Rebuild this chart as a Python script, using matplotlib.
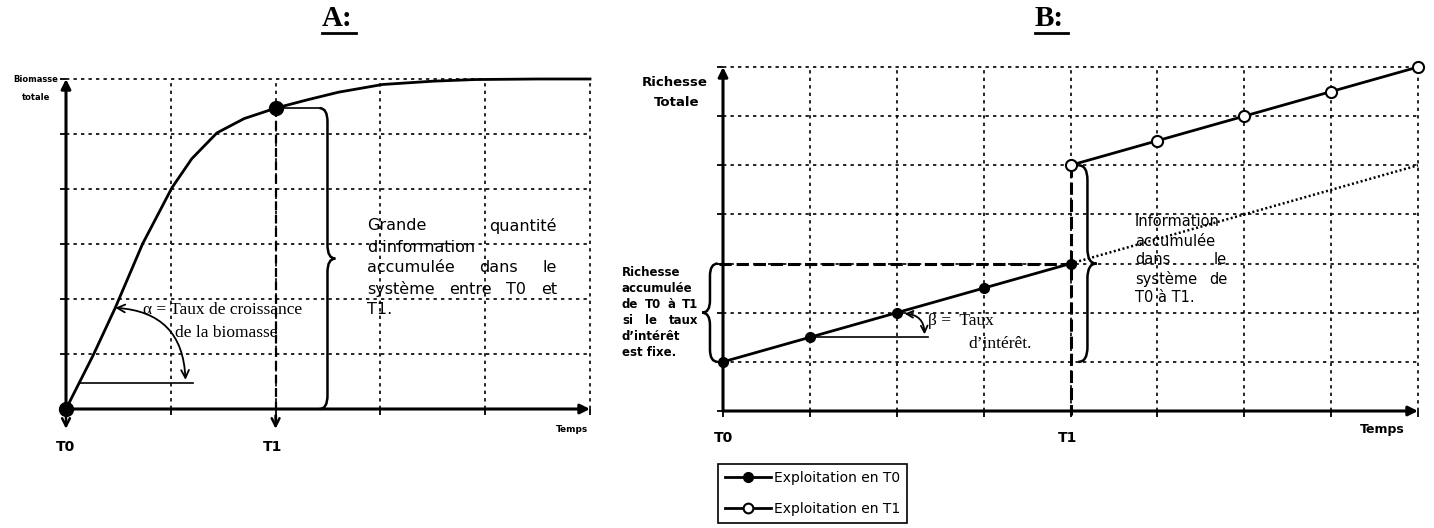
import matplotlib
matplotlib.use("Agg")
import matplotlib.pyplot as plt
import matplotlib.transforms as mtransforms
from matplotlib.lines import Line2D
from matplotlib.path import Path
from matplotlib.patches import PathPatch

# --- Panel A : biomasse totale (courbe) ---
a_grid_x = [0, 1, 2, 3, 4, 5]
a_grid_y = [0, 1, 2, 3, 4, 5, 6]
a_time = [0, 0.26, 0.47, 0.73, 1.01, 1.2, 1.44, 1.7, 2.0, 2.3, 2.6, 3.02, 3.5, 3.9, 4.5, 5.0]
a_biomass = [0, 0.98, 1.84, 3.0, 4.02, 4.55, 5.02, 5.28, 5.47, 5.62, 5.76, 5.9, 5.96, 5.99, 6.0, 6.0]
a_t0, a_t1 = 0, 2.0
a_biomass_t1 = 5.47

# --- Panel B : richesse totale ---
b_grid_x = [0, 1, 2, 3, 4, 5, 6, 7, 8]
b_grid_y = [0, 1, 2, 3, 4, 5, 6, 7]
b_time_t0 = [0, 1, 2, 3, 4]
b_wealth_t0 = [1, 1.5, 2, 2.5, 3]
b_time_t1 = [4, 5, 6, 7, 8]
b_wealth_t1 = [5, 5.5, 6, 6.5, 7]
b_fixed_time = [4, 8]
b_fixed_wealth = [3, 5]
b_t1 = 4

W, H = 1434, 528
fig = plt.figure(figsize=(W / 100, H / 100), dpi=100)
PX = mtransforms.Affine2D().scale(1 / W, -1 / H).translate(0, 1) + fig.transFigure
SERIF = ["Liberation Serif", "DejaVu Serif"]


def px_box(l, r, t, b):
    return [l / W, (H - b) / H, (r - l) / W, (b - t) / H]


def setup(ax, xs, ys):
    for s in ax.spines.values():
        s.set_visible(False)
    ax.set_facecolor("none")
    ax.set_xlim(xs[0], xs[-1])
    ax.set_ylim(ys[0], ys[-1])
    ax.set_xticks(xs)
    ax.set_yticks(ys)
    ax.set_xticklabels([])
    ax.set_yticklabels([])
    ax.tick_params(direction="out", length=4, width=1.3, color="black")
    ax.hlines(ys[1:], xs[0], xs[-1], colors="black", lw=1.2,
              linestyles=(0, (2, 2.5)), clip_on=False, zorder=1)
    ax.vlines(xs[1:], ys[0], ys[-1], colors="black", lw=1.2,
              linestyles=(0, (2, 2.5)), clip_on=False, zorder=1)
    arrow = dict(arrowstyle="-|>", lw=2.2, color="black", mutation_scale=14,
                 shrinkA=0, shrinkB=0)
    ax.annotate("", xy=(xs[-1], 0), xytext=(0, 0), arrowprops=arrow,
                annotation_clip=False, zorder=4)
    ax.annotate("", xy=(0, ys[-1]), xytext=(0, 0), arrowprops=arrow,
                annotation_clip=False, zorder=4)


def brace(ax, x0, tip, y0, y1, r):
    xs = x0 + (tip - x0) * 0.5
    ym = (y0 + y1) / 2
    verts = [(x0, y1), (xs, y1), (xs, y1 - r), (xs, ym + r), (xs, ym), (tip, ym),
             (xs, ym), (xs, ym - r), (xs, y0 + r), (xs, y0), (x0, y0)]
    codes = [Path.MOVETO, Path.CURVE3, Path.CURVE3, Path.LINETO, Path.CURVE3,
             Path.CURVE3, Path.CURVE3, Path.CURVE3, Path.LINETO, Path.CURVE3,
             Path.CURVE3]
    ax.add_patch(PathPatch(Path(verts, codes), fill=False, lw=1.8,
                           edgecolor="black", clip_on=False, zorder=5))


def justify(lines, just, x0, x1, y0, dy, **kw):
    rend = fig.canvas.get_renderer()
    for i, (line, j) in enumerate(zip(lines, just)):
        y = y0 + i * dy
        words = line.split()
        if not j or len(words) == 1:
            fig.text(x0, y, line, transform=PX, ha="left", va="center", **kw)
            continue
        ts = [fig.text(x0, y, w, transform=PX, ha="left", va="center", **kw)
              for w in words]
        widths = [t.get_window_extent(rend).width * W / fig.bbox.width for t in ts]
        gap = (x1 - x0 - sum(widths)) / (len(words) - 1)
        x = x0
        for t, w in zip(ts, widths):
            t.set_x(x)
            x += w + gap


# ================= Panel A =================
axA = fig.add_axes(px_box(66, 590, 79, 409))
setup(axA, a_grid_x, a_grid_y)
axA.plot(a_time, a_biomass, color="black", lw=2, zorder=3, clip_on=False)
axA.plot([a_t0, a_t1], [0, a_biomass_t1], "o", color="black", ms=10,
         zorder=6, clip_on=False)
# T1 dashed drop line and arrows
axA.plot([a_t1, a_t1], [a_biomass_t1, -0.22], color="black", lw=1.6,
         dashes=(4, 2), clip_on=False, zorder=2)
for xv in (a_t0, a_t1):
    axA.annotate("", xy=(xv, -0.36), xytext=(xv, -0.12),
                 arrowprops=dict(arrowstyle="->", lw=1.8, color="black",
                                 mutation_scale=14, shrinkA=0, shrinkB=0),
                 annotation_clip=False)
# brace
axA.plot([a_t1 + 0.08, 2.42], [a_biomass_t1, a_biomass_t1], color="black",
         lw=1.2, clip_on=False)
brace(axA, 2.42, 2.57, 0, a_biomass_t1, 0.25)
# alpha angle
axA.plot([0.13, 1.21], [0.47, 0.47], color="black", lw=1.2)
axA.annotate("", xy=(1.14, 0.53), xytext=(0.47, 1.84),
             arrowprops=dict(arrowstyle="<->", lw=1.3, color="black",
                             mutation_scale=14, shrinkA=0, shrinkB=0,
                             connectionstyle="arc3,rad=-0.45"))
fig.text(143, 310, "α = Taux de croissance", transform=PX, ha="left",
         va="center", fontsize=12.5, family=SERIF)
fig.text(175, 333, "de la biomasse", transform=PX, ha="left", va="center",
         fontsize=12.5, family=SERIF)
justify(["Grande quantité", "d’information", "accumulée dans le",
         "système entre T0 et", "T1."],
        [True, False, True, True, False], 367, 557, 226, 21, fontsize=11.5)
fig.text(36, 80, "Biomasse", transform=PX, ha="center", va="center",
         fontsize=6, fontweight="bold")
fig.text(36, 97, "totale", transform=PX, ha="center", va="center",
         fontsize=6, fontweight="bold")
fig.text(572, 430, "Temps", transform=PX, ha="center", va="center",
         fontsize=6.5, fontweight="bold")
fig.text(66, 447, "T0", transform=PX, ha="center", va="center",
         fontsize=10, fontweight="bold")
fig.text(273, 447, "T1", transform=PX, ha="center", va="center",
         fontsize=10, fontweight="bold")

# ================= Panel B =================
axB = fig.add_axes(px_box(723, 1418, 67, 411))
setup(axB, b_grid_x, b_grid_y)
axB.plot(b_fixed_time, b_fixed_wealth, color="black", lw=1.8,
         linestyle=(0, (0.8, 1.0)), zorder=2, clip_on=False)
axB.plot([-0.05, b_t1], [b_wealth_t0[-1]] * 2, color="black", lw=2.2,
         dashes=(4, 1.6), zorder=2, clip_on=False)
axB.plot([b_t1, b_t1], [b_wealth_t1[0], -0.08], color="black", lw=2.2,
         dashes=(4, 1.6), zorder=2, clip_on=False)
axB.plot(b_time_t0, b_wealth_t0, "-o", color="black", lw=2, ms=7,
         zorder=6, clip_on=False)
axB.plot(b_time_t1, b_wealth_t1, "-o", color="black", lw=2, ms=8,
         mfc="white", mew=1.5, zorder=6, clip_on=False)
brace(axB, 4.09, 4.30, b_wealth_t0[0], b_wealth_t1[0], 0.3)
brace(axB, -0.06, -0.24, b_wealth_t0[0], b_wealth_t0[-1], 0.25)
# beta angle
axB.plot([1, 2.36], [1.5, 1.5], color="black", lw=1.2, zorder=3)
axB.annotate("", xy=(2.32, 1.56), xytext=(2.09, 1.98),
             arrowprops=dict(arrowstyle="<->", lw=1.3, color="black",
                             mutation_scale=12, shrinkA=0, shrinkB=0,
                             connectionstyle="arc3,rad=-0.45"))
fig.text(928, 321, "β =  Taux", transform=PX, ha="left", va="center",
         fontsize=12.5, family=SERIF)
fig.text(968, 344, "d’intérêt.", transform=PX, ha="left", va="center",
         fontsize=12.5, family=SERIF)
justify(["Information", "accumulée", "dans le", "système de", "T0 à T1."],
        [False, False, True, True, False], 1135, 1227, 222, 19, fontsize=10.5)
justify(["Richesse", "accumulée", "de T0 à T1", "si le taux", "d’intérêt",
         "est fixe."],
        [False, False, True, True, False, False], 622, 698, 273, 15.8,
        fontsize=8.5, fontweight="bold")
fig.text(675, 82, "Richesse", transform=PX, ha="center", va="center",
         fontsize=9.5, fontweight="bold")
fig.text(677, 103, "Totale", transform=PX, ha="center", va="center",
         fontsize=9.5, fontweight="bold")
fig.text(1382, 430, "Temps", transform=PX, ha="center", va="center",
         fontsize=9, fontweight="bold")
fig.text(723, 438, "T0", transform=PX, ha="center", va="center",
         fontsize=10, fontweight="bold")
fig.text(1068, 438, "T1", transform=PX, ha="center", va="center",
         fontsize=10, fontweight="bold")

# titles
for label, x0, x1 in (("A:", 322, 356), ("B:", 1035, 1068)):
    fig.text(x0, 19, label, transform=PX, ha="left", va="center",
             fontsize=21, fontweight="bold", family=SERIF)
    fig.add_artist(Line2D([x0, x1], [33, 33], transform=PX, color="black",
                          lw=2))

# legend
handles = [
    Line2D([], [], color="black", lw=2, marker="o", ms=7),
    Line2D([], [], color="black", lw=2, marker="o", ms=7, mfc="white", mew=1.5),
]
leg = fig.legend(handles, ["Exploitation en T0", "Exploitation en T1"],
                 loc="upper left", bbox_to_anchor=(718 / W, 1 - 464 / H),
                 borderaxespad=0, fontsize=10, frameon=True, fancybox=False,
                 edgecolor="black", framealpha=1, handlelength=3.3,
                 handletextpad=0.2, labelspacing=1.25, borderpad=0.5)
leg.get_frame().set_linewidth(1.2)

fig.savefig("out.png", dpi=100, facecolor="white")
